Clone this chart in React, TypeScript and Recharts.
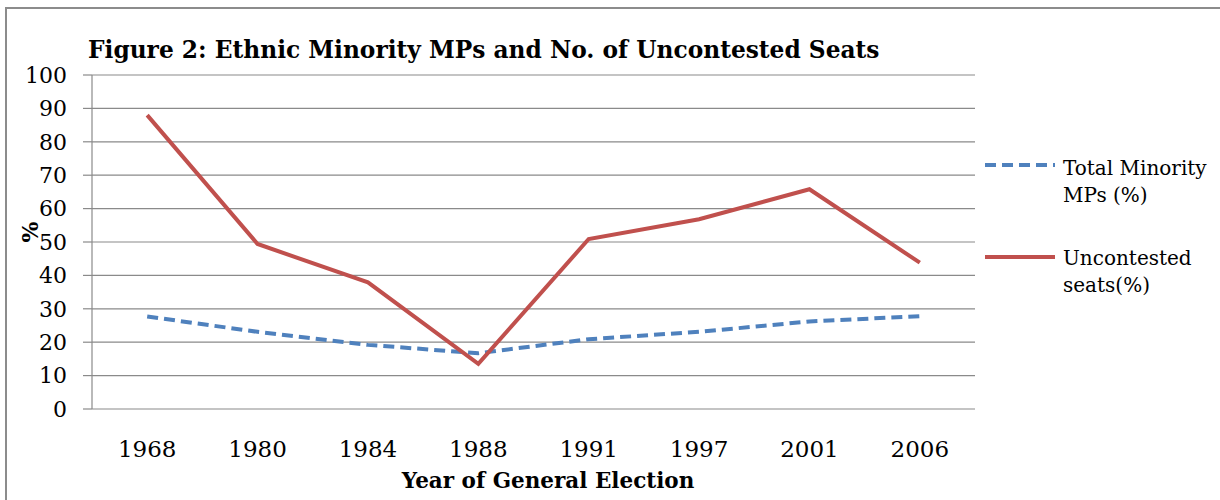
import React from 'react';
import { LineChart, Line, XAxis, YAxis, CartesianGrid } from 'recharts';

const years = ['1968', '1980', '1984', '1988', '1991', '1997', '2001', '2006'];
const minorityMPs = [27.7, 23.1, 19.2, 16.7, 20.9, 23.1, 26.2, 27.8];
const uncontestedSeats = [88.0, 49.4, 37.9, 13.5, 50.9, 56.8, 65.8, 43.8];
const yTicks = [0, 10, 20, 30, 40, 50, 60, 70, 80, 90, 100];

const boundaryTicks = years.map((_, i) => i).concat([years.length]);
const centerTicks = years.map((_, i) => i + 0.5);

const data = years.map((year, i) => ({
  pos: i + 0.5,
  year,
  minority: minorityMPs[i],
  uncontested: uncontestedSeats[i],
}));

const FONT = "'DejaVu Serif', serif";
const GRID = '#8a8a8a';
const BLUE = '#4F81BD';
const RED = '#C0504D';

export default function App() {
  return (
    <div
      style={{
        position: 'absolute',
        left: 0,
        top: 0,
        width: 1220,
        height: 500,
        overflow: 'hidden',
        background: '#fff',
      }}
    >
      <div
        style={{
          position: 'absolute',
          left: 5,
          top: 7,
          width: 1215,
          height: 493,
          boxSizing: 'border-box',
          borderLeft: '2px solid #8c8c8c',
          borderTop: '2px solid #8c8c8c',
        }}
      />
      <div style={{ position: 'absolute', left: 0, top: 0 }}>
        <LineChart
          width={1220}
          height={500}
          data={data}
          margin={{ top: 75, right: 245, bottom: 61, left: 32 }}
        >
          <CartesianGrid vertical={false} stroke={GRID} strokeWidth={1.2} xAxisId="ticks" />
          <XAxis
            xAxisId="ticks"
            type="number"
            dataKey="pos"
            domain={[0, years.length]}
            ticks={boundaryTicks}
            interval={0}
            tickFormatter={() => ''}
            tickSize={8}
            height={0}
            axisLine={{ stroke: GRID, strokeWidth: 1.2 }}
            tickLine={{ stroke: GRID, strokeWidth: 1.2 }}
          />
          <XAxis
            xAxisId="labels"
            type="number"
            dataKey="pos"
            domain={[0, years.length]}
            ticks={centerTicks}
            interval={0}
            tickFormatter={(v: number) => years[Math.round(v - 0.5)]}
            axisLine={false}
            tickLine={false}
            tickSize={0}
            tickMargin={32}
            height={30}
            tick={{ fill: '#000', fontSize: 23, fontFamily: FONT }}
          />
          <YAxis
            type="number"
            domain={[0, 100]}
            ticks={yTicks}
            interval={0}
            width={60}
            tickSize={9}
            tickMargin={16}
            axisLine={{ stroke: GRID, strokeWidth: 1.2 }}
            tickLine={{ stroke: GRID, strokeWidth: 1.2 }}
            tick={{ fill: '#000', fontSize: 22, fontFamily: FONT }}
          />
          <Line
            xAxisId="ticks"
            type="linear"
            dataKey="minority"
            stroke={BLUE}
            strokeWidth={4}
            strokeDasharray="11 6"
            dot={false}
            activeDot={false}
            isAnimationActive={false}
          />
          <Line
            xAxisId="ticks"
            type="linear"
            dataKey="uncontested"
            stroke={RED}
            strokeWidth={4}
            dot={false}
            activeDot={false}
            isAnimationActive={false}
          />
        </LineChart>
      </div>
      <svg
        width={1220}
        height={500}
        style={{ position: 'absolute', left: 0, top: 0, pointerEvents: 'none' }}
      >
        <text x={88} y={58} fontFamily={FONT} fontWeight="bold" fontSize={23.3} fill="#000">
          Figure 2: Ethnic Minority MPs and No. of Uncontested Seats
        </text>
        <text
          x={548}
          y={488}
          textAnchor="middle"
          fontFamily={FONT}
          fontWeight="bold"
          fontSize={21.5}
          fill="#000"
        >
          Year of General Election
        </text>
        <text
          x={0}
          y={0}
          transform="translate(38,232) rotate(-90)"
          textAnchor="middle"
          fontFamily={FONT}
          fontWeight="bold"
          fontSize={22}
          fill="#000"
        >
          %
        </text>
        <line x1={985} y1={165} x2={1055} y2={165} stroke={BLUE} strokeWidth={4} strokeDasharray="11 6" />
        <text x={1063} y={175} fontFamily={FONT} fontSize={20} fill="#000">Total Minority</text>
        <text x={1063} y={202} fontFamily={FONT} fontSize={20} fill="#000">MPs (%)</text>
        <line x1={985} y1={257} x2={1055} y2={257} stroke={RED} strokeWidth={4} />
        <text x={1063} y={265} fontFamily={FONT} fontSize={20} fill="#000">Uncontested</text>
        <text x={1063} y={292} fontFamily={FONT} fontSize={20} fill="#000">seats(%)</text>
      </svg>
    </div>
  );
}
